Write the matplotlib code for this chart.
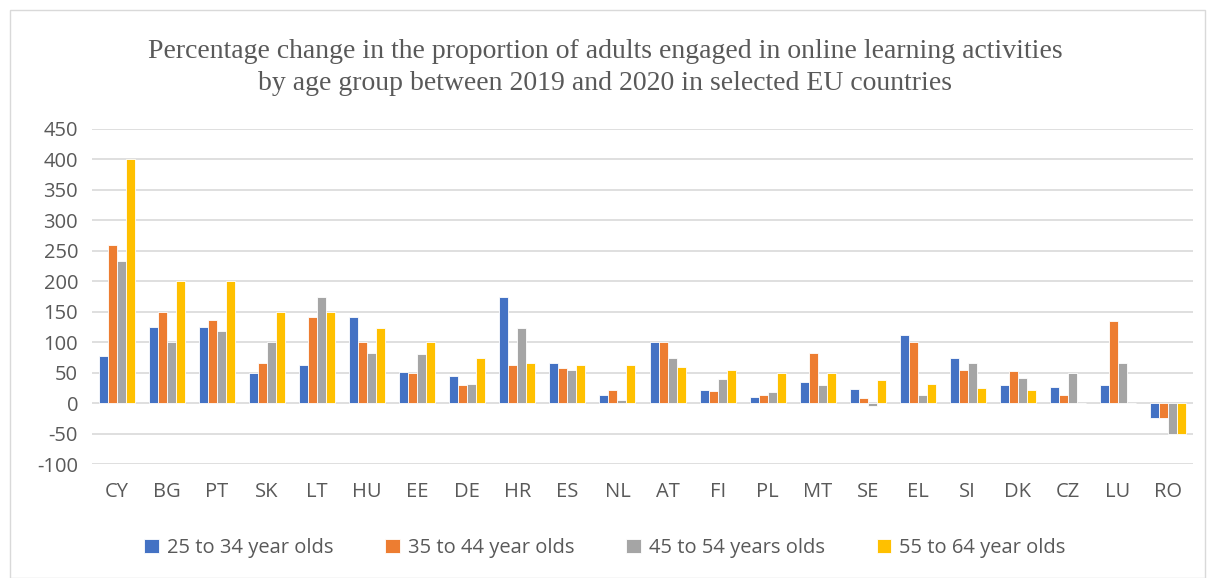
import matplotlib
matplotlib.use("Agg")
import matplotlib.pyplot as plt
import numpy as np
from matplotlib.patches import Rectangle

countries = ["CY", "BG", "PT", "SK", "LT", "HU", "EE", "DE", "HR", "ES", "NL",
             "AT", "FI", "PL", "MT", "SE", "EL", "SI", "DK", "CZ", "LU", "RO"]
age_25_34 = [77, 125, 125, 50, 63, 142, 51, 45, 174, 66, 14,
             100, 22, 10, 34, 23, 112, 74, 29, 26, 29, -25]
age_35_44 = [259, 150, 137, 66, 142, 100, 49, 29, 62, 57, 21,
             100, 20, 13, 82, 8, 100, 54, 52, 13, 135, -25]
age_45_54 = [233, 100, 119, 100, 174, 82, 80, 32, 124, 55, 5,
             74, 40, 19, 29, -4, 13, 66, 41, 49, 66, -50]
age_55_64 = [400, 200, 200, 150, 150, 124, 100, 74, 66, 62, 62,
             59, 54, 49, 49, 38, 32, 24, 21, 0, 0, -50]
series_labels = ["25 to 34 year olds", "35 to 44 year olds",
                 "45 to 54 years olds", "55 to 64 year olds"]
colors = ["#4472C4", "#ED7D31", "#A5A5A5", "#FFC000"]
yticks = list(range(-100, 451, 50))

plt.rcParams["axes.unicode_minus"] = False

fig = plt.figure(figsize=(12.1, 5.78), dpi=100)
# outer border
fig.patches.append(Rectangle((10/1210, 0), 1195/1210, 568/578, transform=fig.transFigure,
                             fill=False, edgecolor="#d9d9d9", linewidth=1))
ax = fig.add_axes([92/1210, 1 - 464/578, (1193-92)/1210, (464-129)/578])

x = np.arange(len(countries))
w = 0.18
data = [age_25_34, age_35_44, age_45_54, age_55_64]
for i, (vals, c, lab) in enumerate(zip(data, colors, series_labels)):
    ax.bar(x + (i - 1.5) * w, vals, width=w, color=c, edgecolor="white",
           linewidth=0.6, label=lab, zorder=3)

ax.set_ylim(-100, 450)
ax.set_xlim(-0.5, len(countries) - 0.5)
ax.set_yticks(yticks)
ax.set_xticks(x)
ax.set_xticklabels(countries)
ax.yaxis.grid(True, color="#d9d9d9", linewidth=1.2, zorder=0)
ax.set_axisbelow(True)
for s in ax.spines.values():
    s.set_visible(False)
ax.tick_params(axis="both", length=0, labelsize=14.5, colors="#595959",
               labelfontfamily="Open Sans")
ax.tick_params(axis="x", pad=13)
ax.tick_params(axis="y", pad=10)

fig.text(0.5, 1 - 51/578, "Percentage change in the proportion of adults engaged in online learning activities",
         ha="center", va="center", fontsize=20, family="Liberation Serif", color="#595959")
fig.text(0.5, 1 - 83/578, "by age group between 2019 and 2020 in selected EU countries",
         ha="center", va="center", fontsize=20, family="Liberation Serif", color="#595959")

leg = fig.legend(loc="center", bbox_to_anchor=(0.5, 1 - 548/578), ncol=4, frameon=False,
                 prop={"family": "Open Sans", "size": 14.5}, handlelength=0.7, handleheight=0.7,
                 columnspacing=2.6, handletextpad=0.4)
for t in leg.get_texts():
    t.set_color("#595959")

fig.savefig("out.png", dpi=100)
